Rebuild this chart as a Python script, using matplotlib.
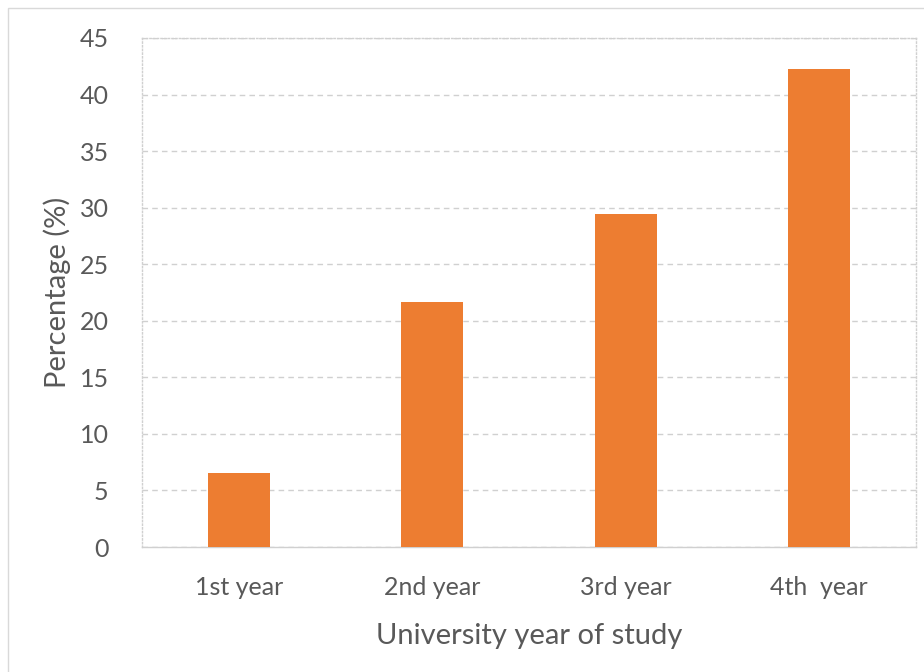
import matplotlib
matplotlib.use('Agg')
import matplotlib.pyplot as plt
from matplotlib.patches import Rectangle

years = ['1st year', '2nd year', '3rd year', '4th  year']
percent = [6.5, 21.7, 29.4, 42.3]

plt.rcParams['font.family'] = ['Lato', 'DejaVu Sans']
text_col = '#595959'

fig = plt.figure(figsize=(9.24, 6.72), dpi=100)
ax = fig.add_axes([0.1537, 0.186, 0.8376, 0.7575])

x = range(len(years))
ax.bar(x, percent, width=0.32, color='#ED7D31', zorder=3)

ax.set_xlim(-0.5, len(years) - 0.5)
ax.set_ylim(0, 45)
ax.set_yticks(range(0, 46, 5))
ax.set_xticks(list(x))
ax.set_xticklabels(years)

ax.yaxis.grid(True, linestyle=(0, (4, 3)), color='#d0d0d0', linewidth=1, zorder=0)
for s in ax.spines.values():
    s.set_color('#d0d0d0')
    s.set_linestyle(':')
    s.set_linewidth(1)
ax.spines['bottom'].set_linestyle('-')

ax.tick_params(axis='both', length=0, labelsize=18, colors=text_col)
ax.tick_params(axis='x', pad=21)
ax.tick_params(axis='y', pad=24)
ax.set_xlabel('University year of study', fontsize=21, color=text_col, labelpad=17)
ax.set_ylabel('Percentage (%)', fontsize=21, color=text_col, labelpad=6)

# outer chart border
fig.patches.append(Rectangle((8 / 924, -0.01), 1.0, 1 - 8 / 672 + 0.01, transform=fig.transFigure,
                             fill=False, edgecolor='#d9d9d9', linewidth=1))

fig.savefig('out.png', dpi=100)
